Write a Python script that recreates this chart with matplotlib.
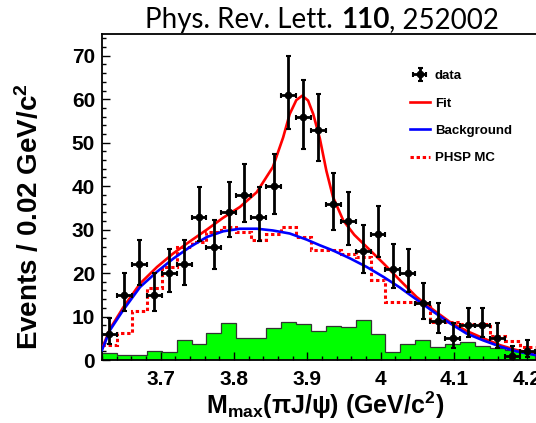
import numpy as np
import matplotlib
matplotlib.use('Agg')
import matplotlib.pyplot as plt
from matplotlib.offsetbox import TextArea, HPacker, AnchoredOffsetbox
from matplotlib.lines import Line2D

plt.rcParams['font.family'] = ['Liberation Sans', 'DejaVu Sans']
plt.rcParams['font.weight'] = 'bold'
plt.rcParams['mathtext.fontset'] = 'custom'
plt.rcParams['mathtext.rm'] = 'Liberation Sans:bold'
plt.rcParams['mathtext.bf'] = 'Liberation Sans:bold'
plt.rcParams['mathtext.it'] = 'Liberation Sans:bold'

# binning: 29 bins between 3.62 and 4.21 GeV
bin_lo = 3.62
bin_hi = 4.21
n_bins = 29

# data counts per bin
data_counts = [6, 15, 22, 15, 20, 22, 33, 26, 34, 38, 33, 40, 61, 56, 53,
               36, 32, 25, 29, 21, 20, 13, 9, 5, 8, 8, 5, 1, 2]
err_lo = [2.4, 3.8, 4.7, 3.8, 4.4, 4.7, 5.7, 5.1, 5.8, 6.2, 5.7, 6.3, 7.8, 7.5, 7.3,
          6.0, 5.6, 5.0, 5.4, 4.5, 4.4, 3.6, 2.9, 2.2, 2.8, 2.8, 2.2, 0.8, 1.3]
err_hi = [3.6, 5.0, 5.7, 5.0, 5.5, 5.7, 6.8, 6.2, 6.9, 7.2, 6.8, 7.4, 8.9, 8.5, 8.3,
          7.1, 6.7, 6.1, 6.4, 5.6, 5.5, 4.7, 4.1, 3.4, 4.0, 4.0, 3.4, 2.3, 2.6]

# green histogram (non-signal component)
green_counts = [1.5, 1.1, 1.1, 2.1, 1.9, 4.6, 3.6, 6.3, 8.6, 5.0, 5.0, 7.3, 8.8, 8.2, 6.6,
                7.9, 7.6, 9.3, 5.9, 1.9, 3.6, 4.6, 2.9, 3.6, 4.2, 3.3, 2.7, 2.4, 1.9]

# PHSP MC histogram
phsp_counts = [3.4, 6.3, 11.3, 16.5, 21.4, 26.0, 27.2, 29.4, 30.5, 29.4, 27.7, 29.1, 30.5, 28.4, 25.2,
               25.2, 24.3, 23.7, 18.4, 13.4, 13.4, 13.0, 8.8, 8.8, 8.3, 8.3, 5.5, 4.4, 3.0]

# fit curve
fit_x = [3.620, 3.631, 3.649, 3.672, 3.695, 3.717, 3.740, 3.763, 3.785, 3.808, 3.831,
         3.853, 3.867, 3.876, 3.885, 3.893, 3.901, 3.908, 3.917, 3.926, 3.935, 3.949,
         3.964, 3.981, 4.004, 4.026, 4.049, 4.072, 4.094, 4.117, 4.140, 4.163, 4.185, 4.212]
fit_y = [2.6, 7.2, 12.1, 17.6, 21.4, 24.5, 27.3, 30.0, 32.7, 35.2, 38.6,
         44.4, 51.2, 56.6, 59.8, 60.8, 59.7, 56.6, 51.0, 43.5, 37.5, 32.1,
         28.8, 26.0, 22.2, 18.4, 14.5, 11.5, 8.8, 6.7, 5.0, 3.4, 2.3, 1.4]

# background curve
bkg_x = [3.620, 3.631, 3.649, 3.672, 3.695, 3.717, 3.740, 3.763, 3.785, 3.808, 3.831,
         3.853, 3.876, 3.899, 3.917, 3.935, 3.958, 3.981, 4.004, 4.026, 4.049, 4.072,
         4.094, 4.117, 4.140, 4.163, 4.185, 4.212]
bkg_y = [2.3, 6.9, 11.5, 16.8, 20.3, 23.3, 26.0, 28.3, 29.6, 30.2, 30.2,
         29.8, 29.1, 27.7, 26.4, 25.2, 23.4, 21.4, 19.1, 16.7, 13.9, 11.1,
         8.5, 6.1, 4.5, 3.1, 2.0, 1.1]

edges = np.linspace(bin_lo, bin_hi, n_bins + 1)
centers = 0.5 * (edges[1:] + edges[:-1])
half_w = 0.5 * (edges[1] - edges[0])

W, H = 536, 423
fig = plt.figure(figsize=(W / 100, H / 100), dpi=100)
ax = fig.add_axes([102 / W, 63 / H, 440 / W, 326 / H])

# histograms
ax.stairs(green_counts, edges, fill=True, color='#00ff00', zorder=1)
ax.stairs(green_counts, edges, color='#333333', lw=0.9, zorder=1.5)
phsp = ax.stairs(phsp_counts, edges, color='#ff0000', lw=2.2, ls=(0, (1.1, 0.9)),
                 baseline=None, zorder=2)

# curves
fit_line, = ax.plot(fit_x, fit_y, color='#ff0000', lw=1.9, zorder=3)
bkg_line, = ax.plot(bkg_x, bkg_y, color='#0000ff', lw=1.9, zorder=3.5)

# data
data_eb = ax.errorbar(centers, data_counts, yerr=[err_lo, err_hi], xerr=half_w, fmt='o',
                      ms=4.5, color='black', elinewidth=2.0, capsize=1.8, capthick=1.5, zorder=4)

ax.set_xlim(3.62, 4.22)
ax.set_ylim(0, 75)
ax.set_xticks([3.7, 3.8, 3.9, 4.0, 4.1, 4.2])
ax.set_xticklabels(['3.7', '3.8', '3.9', '4', '4.1', '4.2'])
ax.set_xticks(np.arange(3.62, 4.221, 0.02), minor=True)
ax.set_yticks(range(0, 71, 10))
ax.set_yticks(range(0, 75, 2), minor=True)
ax.tick_params(which='both', direction='in', width=1.0, labelsize=15)
ax.tick_params(which='major', length=6)
ax.tick_params(which='minor', length=3)
ax.tick_params(axis='x', pad=7)
ax.tick_params(axis='y', pad=5)
for lab in ax.get_xticklabels() + ax.get_yticklabels():
    lab.set_fontweight('bold')
for sp in ax.spines.values():
    sp.set_linewidth(1.3)

fig.text(30 / W, 1 - 217 / H, 'Events / 0.02 GeV/c$^{2}$', rotation=90,
         ha='center', va='center', fontsize=20, fontweight='bold')
fig.text(325 / W, 1 - 405 / H, r'M$_{\mathrm{max}}$($\mathrm{\pi}$J/$\mathrm{\psi}$) (GeV/c$^{2}$)',
         ha='center', va='center', fontsize=18, fontweight='bold')

# legend
phsp_handle = Line2D([], [], color='#ff0000', lw=2.2, ls=(0, (1.1, 0.9)))
fig.legend([data_eb, fit_line, bkg_line, phsp_handle],
           ['data', 'Fit', 'Background', 'PHSP MC'],
           loc='upper left', bbox_to_anchor=(398 / W, 1 - 58 / H),
           frameon=False, handlelength=1.5, handletextpad=0.4, labelspacing=1.15,
           prop={'family': 'Liberation Sans', 'weight': 'bold', 'size': 9.5})

# title with bold volume number
tprops = dict(fontsize=20, fontfamily='Lato', fontweight='normal')
t1 = TextArea('Phys. Rev. Lett.', textprops=tprops)
t2 = TextArea('110', textprops=dict(tprops, fontweight='bold'))
t3 = TextArea(', 252002', textprops=tprops)
box = HPacker(children=[t1, HPacker(children=[t2, t3], pad=0, sep=0)], pad=0, sep=6, align='baseline')
title = AnchoredOffsetbox(loc='center', child=box, frameon=False, pad=0,
                          bbox_to_anchor=(322 / W, 1 - 20 / H), bbox_transform=fig.transFigure)
fig.add_artist(title)

fig.savefig('out.png', dpi=100)
